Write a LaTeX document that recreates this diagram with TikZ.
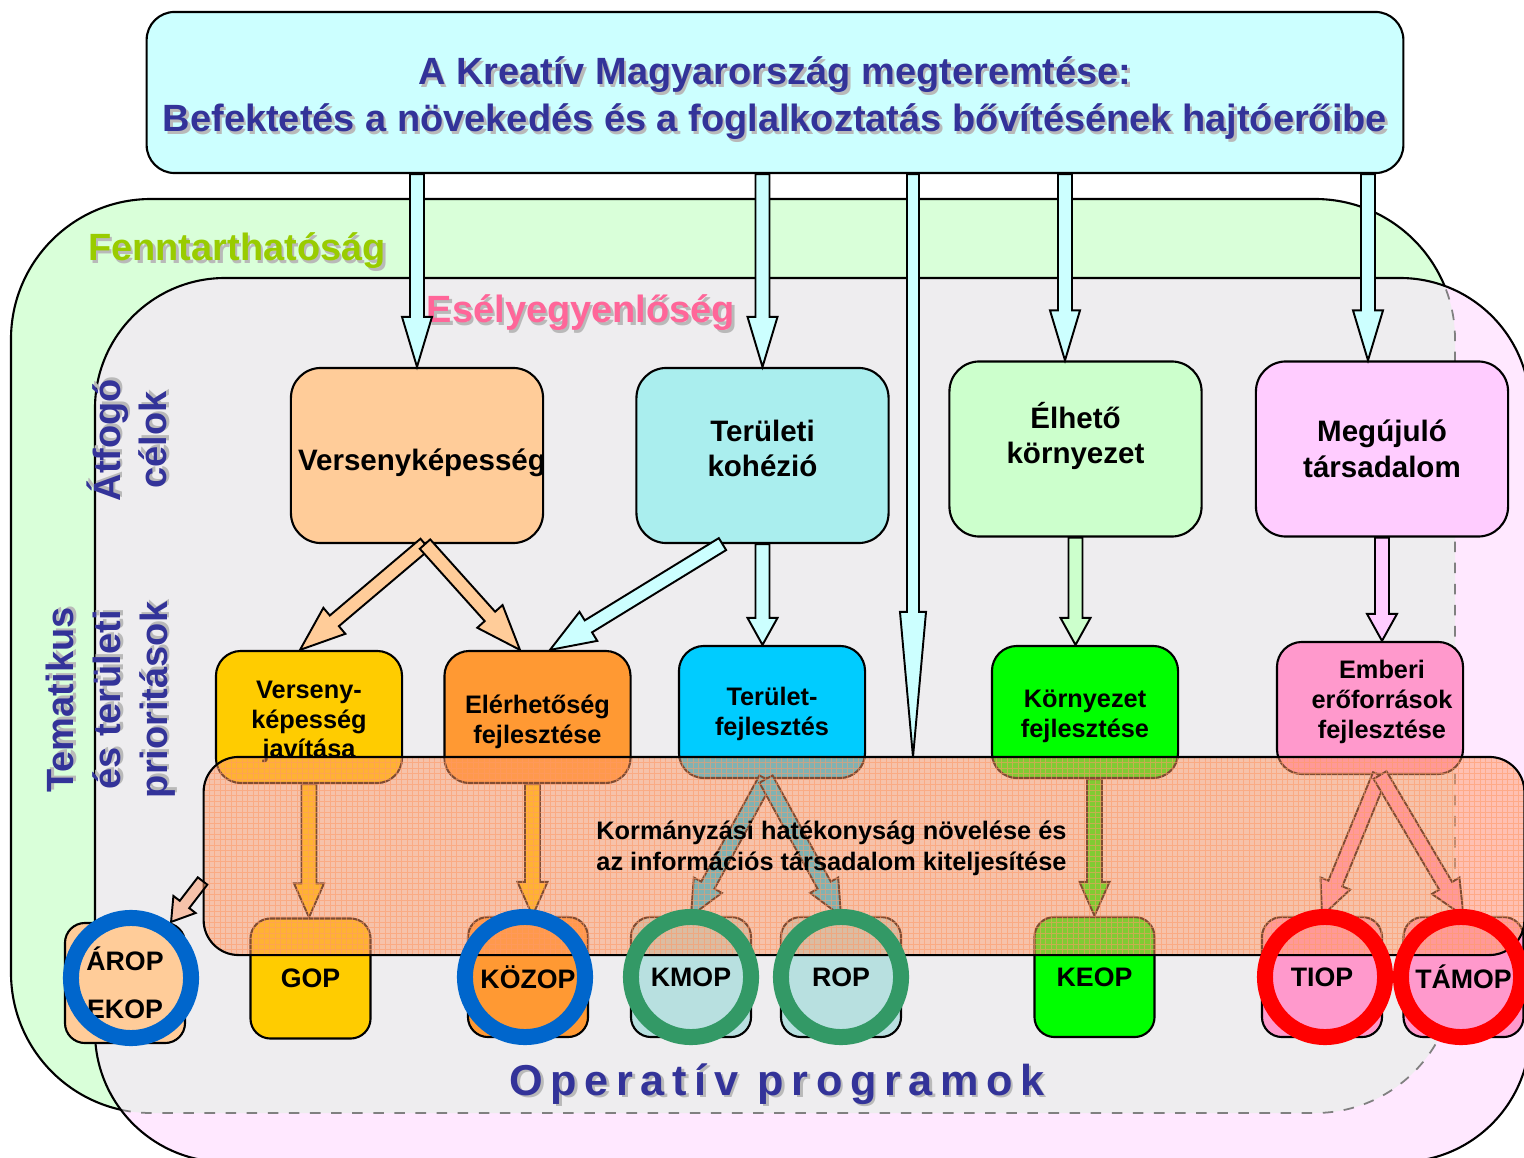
\documentclass[tikz,border=0pt]{standalone}
\usepackage{fontspec}
\setmainfont{Liberation Sans}
\usetikzlibrary{positioning,calc}

\definecolor{navy}{HTML}{333399}
\definecolor{sustfill}{HTML}{D9FFD9}
\definecolor{eqfill}{HTML}{FFE8FF}
\definecolor{overlapfill}{HTML}{EEEDEF}
\definecolor{sustgreen}{HTML}{99CC00}
\definecolor{eqpink}{HTML}{FF6699}
\definecolor{titlecyan}{HTML}{CCFFFF}
\definecolor{peach}{HTML}{FFCC99}
\definecolor{cohcyan}{HTML}{AAEEEE}
\definecolor{livegreen}{HTML}{CCFFCC}
\definecolor{renewpink}{HTML}{FFCCFF}
\definecolor{compyellow}{HTML}{FFCC00}
\definecolor{accorange}{HTML}{FF9933}
\definecolor{regblue}{HTML}{00CCFF}
\definecolor{envgreen}{HTML}{00FF00}
\definecolor{hrpink}{HTML}{FF99CC}
\definecolor{opteal}{HTML}{B8E0E0}
\definecolor{govorange}{HTML}{FF9966}
\definecolor{ringblue}{HTML}{0066CC}
\definecolor{ringgreen}{HTML}{339966}
\definecolor{ringred}{HTML}{FF0000}

\newcommand{\shd}[1]{\leavevmode\rlap{\kern0.7pt\raisebox{-0.7pt}{\textcolor{gray!55}{#1}}}#1}

\tikzset{goal/.style={draw, line width=0.6pt, rounded corners=0.3cm, minimum width=2.52cm, minimum height=1.75cm, inner sep=0pt}}
\tikzset{goaltxt/.style={align=center, font=\fontsize{8.4}{10.2}\selectfont\bfseries}}
\tikzset{prio/.style={draw, line width=0.6pt, rounded corners=0.25cm, minimum width=1.86cm, minimum height=1.32cm, inner sep=0pt}}
\tikzset{priotxt/.style={align=center, font=\fontsize{7.2}{8.5}\selectfont\bfseries}}
\tikzset{opbox/.style={draw, line width=0.6pt, rounded corners=0.2cm, minimum size=1.2cm, inner sep=0pt, align=center, font=\fontsize{7.6}{9}\selectfont\bfseries}}
\tikzset{ring/.style={draw=#1, line width=0.16cm}}
\tikzset{blk/.style={draw, line width=0.55pt, line join=miter}}
\tikzset{govfill/.style={fill=govorange, fill opacity=0.5, text opacity=1}}
\tikzset{biglabel/.style={font=\fontsize{10.8}{13.3}\selectfont\bfseries}}

% block arrow: from, to, shaft half width, head half width, head length, style
\newcommand{\blockarr}[6]{%
  \coordinate (hd) at ($(#2)!#5!(#1)$);
  \draw[blk, #6] ($(#1)!#3!90:(#2)$) -- ($(hd)!#3!-90:(#1)$)
    -- ($(hd)!#4!-90:(#1)$) -- (#2) -- ($(hd)!#4!90:(#1)$)
    -- ($(hd)!#3!90:(#1)$) -- ($(#1)!#3!-90:(#2)$) -- cycle;}

\begin{document}
\begin{tikzpicture}[x=0.01cm, y=-0.01cm]
\useasboundingbox (0,0) rectangle (1524,1158);

% horizontal goals as areas
\filldraw[fill=sustfill, line width=0.6pt, rounded corners=1.4cm] (11,199) rectangle (1455,1113);
\fill[eqfill, rounded corners=1.3cm] (95,278) rectangle (1530,1162);
\begin{scope}
  \clip[rounded corners=1.3cm] (95,278) rectangle (1530,1162);
  \fill[overlapfill, rounded corners=1.4cm] (11,199) rectangle (1455,1113);
  \draw[dashed, gray, line width=0.5pt, rounded corners=1.4cm] (11,199) rectangle (1455,1113);
\end{scope}
\draw[line width=0.6pt, rounded corners=1.3cm] (95,278) rectangle (1530,1162);

\node[biglabel, text=sustgreen] (fenn) at (237,252) {\shd{Fenntarthatóság}};
\node[biglabel, text=eqpink] (esely) at (581,314) {\shd{Esélyegyenlőség}};
\node[biglabel, text=navy, rotate=90, align=center] (atfogo) at (128,440) {\shd{Átfogó}\\\shd{célok}};
\node[biglabel, text=navy, rotate=90, align=center] (temat) at (112,700)
  {\shd{Tematikus}\\\shd{és területi}\\\shd{prioritások}};

% title
\node[draw, line width=0.6pt, fill=titlecyan, rounded corners=0.28cm, minimum width=12.56cm,
  minimum height=1.61cm, label={[biglabel, text=navy, align=center, yshift=-0.07cm]center:{\shd{A Kreatív Magyarország megteremtése:}\\\shd{Befektetés a növekedés és a foglalkoztatás bővítésének hajtóerőibe}}}]
  (title) at (775,92.5) {};

% overarching goals
\node[goal, fill=peach, label={[goaltxt, xshift=0.05cm, yshift=-0.07cm]center:Versenyképesség}] (vk) at (417,455.5) {};
\node[goal, fill=cohcyan, label={[goaltxt, yshift=0.07cm]center:{Területi\\kohézió}}] (tk) at (762.5,455.5) {};
\node[goal, fill=livegreen, label={[goaltxt, yshift=0.13cm]center:{Élhető\\környezet}}] (eh) at (1075.5,449) {};
\node[goal, fill=renewpink, label={[goaltxt]center:{Megújuló\\társadalom}}] (mt) at (1382,449) {};

\coordinate (a1) at (title.south -| vk.north);
\coordinate (a2) at (title.south -| tk.north);
\coordinate (lt) at (913,757);
\coordinate (a3) at (title.south -| lt);
\coordinate (eh-in) at ([xshift=-0.105cm]eh.north);
\coordinate (a4) at (title.south -| eh-in);
\coordinate (mt-in) at ([xshift=-0.14cm]mt.north);
\coordinate (a5) at (title.south -| mt-in);
\blockarr{a1}{vk.north}{0.07cm}{0.15cm}{0.5cm}{fill=titlecyan}
\blockarr{a2}{tk.north}{0.07cm}{0.15cm}{0.5cm}{fill=titlecyan}
\blockarr{a3}{lt}{0.06cm}{0.13cm}{1.45cm}{fill=titlecyan}
\blockarr{a4}{eh-in}{0.07cm}{0.15cm}{0.5cm}{fill=titlecyan}
\blockarr{a5}{mt-in}{0.07cm}{0.15cm}{0.5cm}{fill=titlecyan}

% priorities
\node[prio, fill=compyellow, label={[priotxt, yshift=-0.05cm]center:{Verseny-\\képesség\\javítása}}] (vkj) at (309,717) {};
\node[prio, fill=accorange, label={[priotxt, yshift=-0.05cm]center:{Elérhetőség\\fejlesztése}}] (eler) at (537.5,717) {};
\node[prio, fill=regblue, label={[priotxt, yshift=-0.02cm]center:{Terület-\\fejlesztés}}] (tfejl) at (772,712) {};
\node[prio, fill=envgreen, label={[priotxt, yshift=-0.04cm]center:{Környezet\\fejlesztése}}] (kfejl) at (1085,712) {};
\node[prio, fill=hrpink, label={[priotxt, xshift=0.12cm, yshift=0.06cm]center:{Emberi\\erőforrások\\fejlesztése}}] (emberi) at (1370,708) {};

\coordinate (vk-out) at ([xshift=0.08cm]vk.south);
\coordinate (vkj-in) at ([xshift=-0.09cm]vkj.north);
\coordinate (eler-in1) at ([xshift=-0.175cm]eler.north);
\coordinate (tk-out) at ([xshift=-0.4cm]tk.south);
\coordinate (eler-in2) at ([xshift=0.125cm]eler.north);
\coordinate (tfejl-in) at (tk.south |- tfejl.north);
\coordinate (kfejl-in) at (eh.south |- kfejl.north);
\coordinate (emberi-in) at (mt.south |- emberi.north);
\blockarr{vk-out}{vkj-in}{0.07cm}{0.17cm}{0.45cm}{fill=peach}
\blockarr{vk-out}{eler-in1}{0.07cm}{0.17cm}{0.45cm}{fill=peach}
\blockarr{tk-out}{eler-in2}{0.07cm}{0.17cm}{0.45cm}{fill=titlecyan}
\blockarr{tk.south}{tfejl-in}{0.07cm}{0.15cm}{0.27cm}{fill=titlecyan}
\blockarr{eh.south}{kfejl-in}{0.07cm}{0.15cm}{0.27cm}{fill=livegreen}
\blockarr{mt.south}{emberi-in}{0.07cm}{0.15cm}{0.27cm}{fill=renewpink}

% operative programmes
\node[opbox, fill=peach, font=\fontsize{7.6}{13.6}\selectfont\bfseries] (arop) at (125,983) {ÁROP\\EKOP};
\node[opbox, fill=compyellow] (gop) at (310.5,978.5) {GOP};
\node[opbox, fill=accorange] (kozop) at (528,977) {KÖZOP};
\node[opbox, fill=opteal] (kmop) at (691,977) {KMOP};
\node[opbox, fill=opteal] (rop) at (841,977) {ROP};
\node[opbox, fill=envgreen] (keop) at (1094.5,977) {KEOP};
\node[opbox, fill=hrpink] (tiop) at (1322,977) {TIOP};
\node[opbox, fill=hrpink] (tamop) at (1463.5,977) {TÁMOP};

\coordinate (gop-in) at (vkj.south |- gop.north);
\coordinate (eler-out) at ([xshift=-0.05cm]eler.south);
\coordinate (kozop-in) at (eler-out |- kozop.north);
\coordinate (tfejl-out) at ([xshift=-0.06cm]tfejl.south);
\coordinate (keop-out) at (keop.north |- kfejl.south);
\coordinate (emberi-out) at ([xshift=0.1cm]emberi.south);
\blockarr{vkj.south}{gop-in}{0.075cm}{0.15cm}{0.34cm}{fill=compyellow}
\blockarr{eler-out}{kozop-in}{0.075cm}{0.15cm}{0.34cm}{fill=compyellow}
\blockarr{tfejl-out}{kmop.north}{0.075cm}{0.16cm}{0.35cm}{fill=regblue}
\blockarr{tfejl-out}{rop.north}{0.075cm}{0.16cm}{0.35cm}{fill=regblue}
\blockarr{keop-out}{keop.north}{0.075cm}{0.15cm}{0.34cm}{fill=envgreen}
\blockarr{emberi-out}{tiop.north}{0.075cm}{0.16cm}{0.35cm}{fill=hrpink}
\blockarr{emberi-out}{tamop.north}{0.075cm}{0.16cm}{0.35cm}{fill=hrpink}

% horizontal priority band
\node[draw, line width=0.6pt, govfill, rounded corners=0.35cm, minimum width=13.2cm,
  minimum height=1.98cm, path picture={\draw[govorange, line width=0.25pt, draw opacity=0.55]
  (path picture bounding box.south west) grid[step=0.055cm] (path picture bounding box.north east);}]
  (band) at (864,856) {};
\node[anchor=west, align=left, font=\fontsize{7.2}{8.8}\selectfont\bfseries] (gov) at (584,848)
  {Kormányzási hatékonyság növelése és\\az információs társadalom kiteljesítése};
\coordinate (band-out) at ([yshift=-0.25cm]band.west);
\coordinate (arop-in) at ([xshift=-0.15cm]arop.north east);
\blockarr{band-out}{arop-in}{0.06cm}{0.14cm}{0.22cm}{govfill}

% rings
\draw[ring=ringblue] ([xshift=0.06cm,yshift=0.05cm]arop.center) circle[radius=0.6cm];
\draw[ring=ringblue] ([xshift=-0.03cm]kozop.center) circle[radius=0.6cm];
\draw[ring=ringgreen] (kmop.center) circle[radius=0.6cm];
\draw[ring=ringgreen] (rop.center) circle[radius=0.6cm];
\draw[ring=ringred] ([xshift=0.03cm]tiop.center) circle[radius=0.6cm];
\draw[ring=ringred] ([xshift=-0.025cm]tamop.center) circle[radius=0.6cm];

\node[text=navy, font=\fontsize{12.3}{14}\selectfont\bfseries\addfontfeature{LetterSpace=17.5}] (oper) at (777,1085)
  {\shd{Operatív programok}};
\end{tikzpicture}
\end{document}
